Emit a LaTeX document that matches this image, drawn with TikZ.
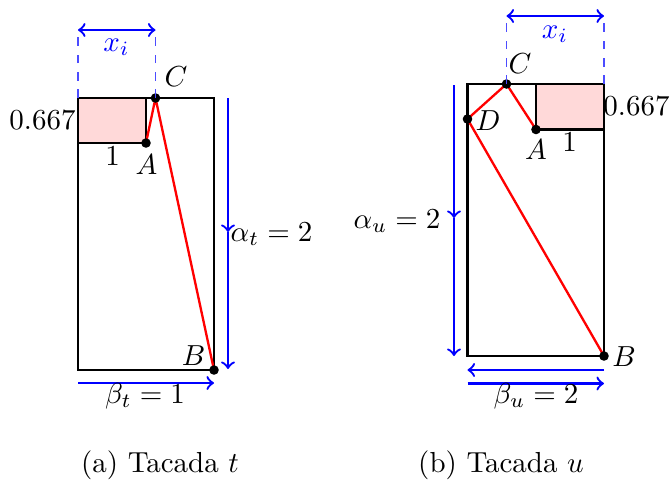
\documentclass[tikz,border=0pt]{standalone}
\begin{document}
\begin{tikzpicture}[x=0.345pt,y=-0.345pt,
  box/.style={draw=black,thick},
  pinkbox/.style={draw=black,thick,fill=red!15},
  shot/.style={draw=red,thick},
  dimline/.style={draw=blue,thick},
  guide/.style={draw=blue!70,dashed,semithick},
  dot/.style={circle,fill=black,inner sep=0pt,minimum size=3.3pt},
  lbl/.style={inner sep=0pt,anchor=center},
  dimlbl/.style={inner sep=0pt,anchor=center,text=blue}
]
\useasboundingbox (0,0) rectangle (670,481);

% ---------------- left: (a)
\draw[box] (78,98) rectangle (214,370);
\draw[pinkbox] (78,98) rectangle (146,143);
\coordinate (lA) at (146,143);
\coordinate (lC) at (155.5,98);
\coordinate (lB) at (214,370);
\draw[shot] (lA) -- (lC) -- (lB);
\node[dot] (lAd) at (lA) {};
\node[dot] (lCd) at (lC) {};
\node[dot] (lBd) at (lB) {};

\coordinate (lgL) at (78,98);
\coordinate (lxL) at (78,30);
\coordinate (lxR) at (155.5,30);
\draw[guide] (lgL) -- (lxL);
\draw[guide] (lC) -- (lxR);
\draw[dimline,<->] (lxL) -- (lxR);
\node[dimlbl] (lxi) at (116.5,47) {$x_i$};

\coordinate (laT) at (228,98);
\coordinate (laM) at (228,232);
\coordinate (laB) at (228,369);
\draw[dimline,->] (laT) -- (laM);
\draw[dimline,->] (laM) -- (laB);
\node[lbl,anchor=west] (lal) at (230,234) {$\alpha_t = 2$};

\coordinate (lbL) at (78,383);
\coordinate (lbR) at (214,383);
\draw[dimline,->] (lbL) -- (lbR);
\node[lbl] (lbl) at (145,396) {$\beta_t = 1$};

\node[lbl] (l667) at (42.5,120) {$0.667$};
\node[lbl] (l1) at (112.5,156) {$1$};
\node[lbl] (lAl) at (146.5,165) {$A$};
\node[lbl] (lCl) at (176,77) {$C$};
\node[lbl] (lBl) at (193.5,356) {$B$};

\node[lbl] (capa) at (160,465) {(a) Tacada $t$};

% ---------------- right: (b)
\draw[box] (467.5,84) rectangle (604,356);
\draw[pinkbox] (536,84) rectangle (604,129.5);
\coordinate (rA) at (536,129.5);
\coordinate (rC) at (506.5,84);
\coordinate (rD) at (467.5,119);
\coordinate (rB) at (604,356);
\draw[shot] (rA) -- (rC) -- (rD) -- (rB);
\node[dot] (rAd) at (rA) {};
\node[dot] (rCd) at (rC) {};
\node[dot] (rDd) at (rD) {};
\node[dot] (rBd) at (rB) {};

\coordinate (rgR) at (604,84);
\coordinate (rxL) at (506.5,16);
\coordinate (rxR) at (604,16);
\draw[guide] (rC) -- (rxL);
\draw[guide] (rgR) -- (rxR);
\draw[dimline,<->] (rxL) -- (rxR);
\node[dimlbl] (rxi) at (555,34) {$x_i$};

\coordinate (raT) at (454,85);
\coordinate (raM) at (454,218);
\coordinate (raB) at (454,356);
\draw[dimline,->] (raT) -- (raM);
\draw[dimline,->] (raM) -- (raB);
\node[lbl,anchor=east] (ral) at (441,221) {$\alpha_u = 2$};

\coordinate (rb1L) at (467.5,370);
\coordinate (rb1R) at (604,370);
\draw[dimline,->] (rb1R) -- (rb1L);
\coordinate (rb2L) at (467.5,383.5);
\coordinate (rb2R) at (604,383.5);
\draw[dimline,->] (rb2L) -- (rb2R);
\node[lbl] (rbl) at (536,396) {$\beta_u = 2$};

\node[lbl] (r667) at (636.5,106) {$0.667$};
\node[lbl] (r1) at (569.5,142) {$1$};
\node[lbl] (rAl) at (536,150) {$A$};
\node[lbl] (rCl) at (520,64) {$C$};
\node[lbl] (rDl) at (488,121) {$D$};
\node[lbl] (rBl) at (624,357) {$B$};

\node[lbl] (capb) at (501,465) {(b) Tacada $u$};
\end{tikzpicture}
\end{document}
